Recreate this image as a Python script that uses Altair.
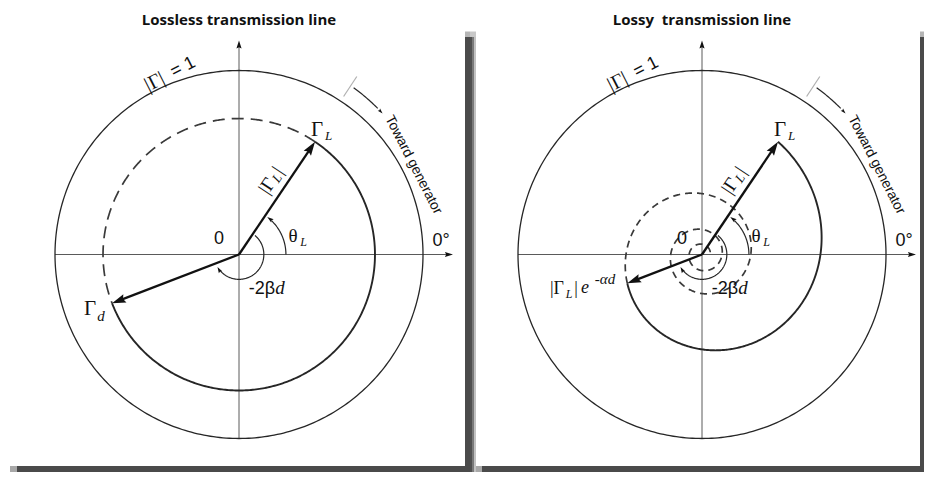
import altair as alt
import numpy as np
import pandas as pd

# ---------------- values (unit = radius of the |Γ| = 1 circle) ----------
panel_titles = ["Lossless transmission line", "Lossy\u00a0 transmission line"]
gamma_L_mag = 0.739          # |Γ_L|
theta_L_deg = 56.0           # θ_L
two_beta_d_deg = 215.0       # 2βd
lossy_end_mag = 0.435        # |Γ_L| e^{-αd}
dashed_spiral_extent = 1150.0
theta_arc_r = 0.255
beta_arc_r = 0.135
axis_reach = 1.163

# ---------------- layout (pixels) ----------------
PX = 184.0                  # pixels per unit
PANEL_W = [462, 454]
PANEL_H = 464
CENTER_X = [231.0, 232.0]
CENTER_Y = 246.5

SANS = "Liberation Sans"
SERIF = "Liberation Serif"
INK = "#262626"


def pol(r, a_deg):
    a = np.radians(a_deg)
    return r * np.cos(a), r * np.sin(a)


def build_panel(idx):
    lossy = idx == 1
    xdom = [-CENTER_X[idx] / PX, (PANEL_W[idx] - CENTER_X[idx]) / PX]
    ydom = [-(PANEL_H - CENTER_Y) / PX, CENTER_Y / PX]

    # ---------- lines ----------
    rows = []

    def add(style, name, xs, ys):
        xs = np.atleast_1d(xs)
        ys = np.atleast_1d(ys)
        for i, (x, y) in enumerate(zip(xs, ys)):
            rows.append(dict(x=float(x), y=float(y), o=i, id=name, style=style))

    add("axis", "h", [-1.0, axis_reach - 0.02], [0, 0])
    add("axis", "v", [0, 0], [-1.0, axis_reach - 0.02])
    add("circle", "unit", *pol(1.0, np.linspace(0, 360, 361)))
    add("tick", "tg_tick", *pol(np.array([1.03, 1.16]), np.array([56.5, 56.5])))
    add("thin", "tg_arrow", *pol(np.linspace(1.10, 1.095, 20), np.linspace(55.5, 46.5, 20)))
    add("thin", "theta", *pol(theta_arc_r, np.linspace(0, theta_L_deg - 10, 60)))
    end_angle = theta_L_deg - two_beta_d_deg
    add("thin", "beta", *pol(beta_arc_r, np.linspace(theta_L_deg - 6, end_angle + 21, 150)))

    if not lossy:
        add("solid", "sol", *pol(gamma_L_mag, np.linspace(theta_L_deg, end_angle, 300)))
        add("dash", "dsh", *pol(gamma_L_mag, np.linspace(theta_L_deg, 360 + end_angle, 300)))
        end_r = gamma_L_mag
    else:
        k = np.log(gamma_L_mag / lossy_end_mag) / two_beta_d_deg
        s = np.linspace(0, two_beta_d_deg, 300)
        add("solid", "sol", *pol(gamma_L_mag * np.exp(-k * s), theta_L_deg - s))
        s2 = np.linspace(two_beta_d_deg, dashed_spiral_extent, 1200)
        add("dash", "dsh", *pol(gamma_L_mag * np.exp(-k * s2), theta_L_deg - s2))
        end_r = lossy_end_mag

    back = 8 / PX
    add("vector", "vL", *pol(np.array([0, gamma_L_mag - back]), np.array([theta_L_deg] * 2)))
    add("vector", "vd", *pol(np.array([0, end_r - back]), np.array([end_angle] * 2)))
    lines = pd.DataFrame(rows)

    # ---------- arrow heads ----------
    heads = []

    def head(x, y, direction_deg, size):
        heads.append(dict(x=float(x), y=float(y), rot=float((90 - direction_deg) % 360), sz=size))

    head(*pol(gamma_L_mag, theta_L_deg), theta_L_deg, 760)
    head(*pol(end_r, end_angle), end_angle, 760)
    head(axis_reach, 0, 0, 260)
    head(0, axis_reach, 90, 260)
    head(*pol(theta_arc_r, theta_L_deg - 3), theta_L_deg - 3 + 90, 170)
    head(*pol(beta_arc_r, end_angle + 9), end_angle + 9 - 90, 150)
    head(*pol(1.094, 44.5), 44.5 - 90, 110)
    heads = pd.DataFrame(heads)

    # ---------- shadows ----------
    xl, xr = xdom[0] * PX, xdom[1] * PX
    yb = PANEL_H - CENTER_Y
    if not lossy:
        sh = [(226, xr, -217.5, yb, "#4a4a4a"),
              (226, xr, -223, -217.5, "#b5b5b5"),
              (-222, xr, 211.5, yb, "#4a4a4a"),
              (-229, -222, 211.5, yb, "#a8a8a8")]
    else:
        sh = [(xl, xl + 2, -217.5, yb, "#505050"),
              (xl + 2, xl + 4, -217.5, yb, "#7a7a7a"),
              (xl + 4, xl + 6, -217.5, yb, "#c2c2c2"),
              (xl, xl + 6, -223, -217.5, "#c8c8c8"),
              (218, xr, -217.5, yb, "#4a4a4a"),
              (218, xr, -223, -217.5, "#b5b5b5"),
              (-220, xr, 211.5, yb, "#4a4a4a"),
              (-226, -220, 211.5, yb, "#a8a8a8")]
    shadows = pd.DataFrame([dict(x=a / PX, x2=b / PX, y=-c / PX, y2=-d / PX, c=col)
                            for a, b, c, d, col in sh])

    # ---------- text ----------
    texts = []

    def T(text, x, y, fam, size, rot=0.0):
        texts.append(dict(x=float(x), y=float(y), t=text, fam=fam, fs=size, rot=float(rot % 360)))

    def Tpx(text, dx, dy, fam, size, rot=0.0):
        T(text, dx / PX, -dy / PX, fam, size, rot)

    T(panel_titles[idx], 0.0, ydom[1] - 11.5 / PX, "bold", 15)

    # |Γ| = 1 along the unit circle
    cx, cy = pol(1.05, 111.0)
    ux, uy = pol(1.0, 27.0)
    T("|Γ|", cx - 17 / PX * ux, cy - 17 / PX * uy, "serif", 20, -27)
    T("= 1", cx + 15 / PX * ux, cy + 15 / PX * uy, "sans", 18, -27)

    # Toward generator
    gx, gy = pol(1.066, 27.2)
    T("Toward generator", gx, gy, "sans", 14, 90 - 27.2)

    # Γ_L at the tip
    tx, ty = pol(gamma_L_mag, theta_L_deg)
    T("Γ", tx + 2 / PX, ty + 12 / PX, "serif", 21)
    T("L", tx + 13.5 / PX, ty + 6 / PX, "italic", 13)

    Tpx("0", -20, -16, "sans", 18)
    Tpx("0°", 202, -14, "sans", 18)
    Tpx("θ", 54, -18.5, "serif", 19)
    Tpx("L", 64.5, -12.5, "italic", 12)
    Tpx("-2β", 23, 34, "sans", 18)
    Tpx("d", 41, 33, "italic", 19)

    # |Γ_L| along the vector
    ux, uy = pol(1.0, theta_L_deg)
    nx, ny = pol(1.0, theta_L_deg + 90)
    base_x, base_y = ux * 81 / PX + nx * 15 / PX, uy * 81 / PX + ny * 15 / PX
    for txt, along, nrm, fam, fs in [("|Γ", -8.5, 0, "serif", 19), ("L", 3.5, -4, "italic", 13),
                                     ("|", 10.5, 0, "serif", 19)]:
        T(txt, base_x + (along * ux + nrm * nx) / PX, base_y + (along * uy + nrm * ny) / PX,
          fam, fs, -theta_L_deg)

    if not lossy:
        ex, ey = pol(end_r, end_angle)
        T("Γ", ex - 22 / PX, ey - 6 / PX, "serif", 21)
        T("d", ex - 11 / PX, ey - 12.5 / PX, "italic", 15)
    else:
        Tpx("|Γ", -145, 34, "serif", 18)
        Tpx("L", -133, 39, "italic", 12)
        Tpx("|", -126, 34, "serif", 18)
        Tpx("e", -117, 33, "italic", 18)
        Tpx("-αd", -97, 24, "italic", 15)
    texts = pd.DataFrame(texts)

    X = alt.X("x:Q", scale=alt.Scale(domain=xdom, nice=False, zero=False), axis=None)
    Y = alt.Y("y:Q", scale=alt.Scale(domain=ydom, nice=False, zero=False), axis=None)

    layers = []
    layers.append(alt.Chart(shadows).mark_rect(strokeWidth=0).encode(
        x=X, x2="x2:Q", y=Y, y2="y2:Q", color=alt.Color("c:N", scale=None)))

    def line_layer(style, **kw):
        return alt.Chart(lines).transform_filter(alt.datum.style == style).mark_line(**kw).encode(
            x=X, y=Y, detail="id:N", order="o:Q")

    layers.append(line_layer("axis", color="#5a5a5a", strokeWidth=1.0))
    layers.append(line_layer("circle", color=INK, strokeWidth=1.3))
    layers.append(line_layer("tick", color="#b0b0b0", strokeWidth=1.2))
    layers.append(line_layer("thin", color=INK, strokeWidth=1.2))
    dash = [12, 7] if not lossy else [7, 5]
    layers.append(line_layer("dash", color="#3a3a3a", strokeWidth=1.7, strokeDash=dash))
    layers.append(line_layer("solid", color=INK, strokeWidth=1.9))
    layers.append(line_layer("vector", color="#111111", strokeWidth=2.3))

    layers.append(alt.Chart(heads).mark_point(
        shape="M0,0L0.32,1L0,0.85L-0.32,1Z", filled=True, color="#111111", opacity=1,
        strokeWidth=0).encode(
        x=X, y=Y, angle=alt.Angle("rot:Q", scale=None), size=alt.Size("sz:Q", scale=None)))

    fonts = {"sans": dict(font=SANS), "serif": dict(font=SERIF),
             "italic": dict(font=SERIF, fontStyle="italic"),
             "bold": dict(font="Open Sans", fontWeight="bold")}
    for fam, kw in fonts.items():
        layers.append(alt.Chart(texts).transform_filter(alt.datum.fam == fam).mark_text(
            align="center", baseline="middle", color="#111111", **kw).encode(
            x=X, y=Y, text="t:N", angle=alt.Angle("rot:Q", scale=None),
            size=alt.Size("fs:Q", scale=None)))

    return alt.layer(*layers).properties(width=PANEL_W[idx], height=PANEL_H)


chart = alt.hconcat(build_panel(0), build_panel(1), spacing=0).properties(
    padding=0, background="white").configure_view(stroke=None)

chart.save("out.html", embed_options={"renderer": "svg", "actions": False})
